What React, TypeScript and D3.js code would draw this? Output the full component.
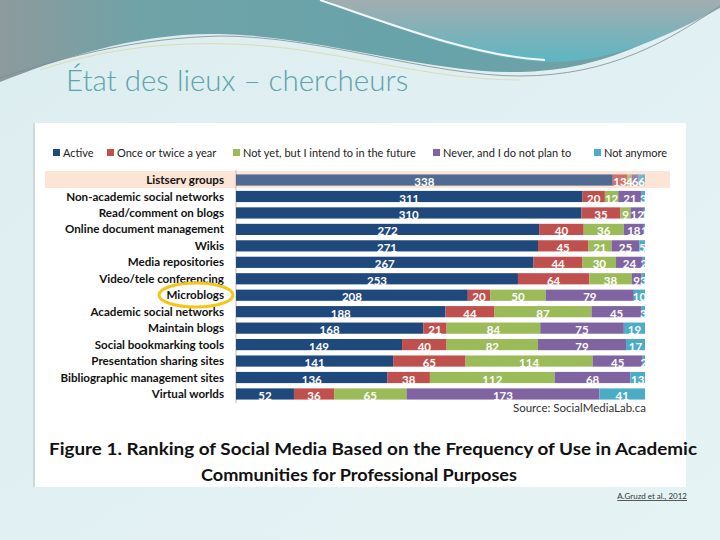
import * as d3 from "d3";

const categories = [
  "Listserv groups",
  "Non-academic social networks",
  "Read/comment on blogs",
  "Online document management",
  "Wikis",
  "Media repositories",
  "Video/tele conferencing",
  "Microblogs",
  "Academic social networks",
  "Maintain blogs",
  "Social bookmarking tools",
  "Presentation sharing sites",
  "Bibliographic management sites",
  "Virtual worlds",
];

const seriesNames = [
  "Active",
  "Once or twice a year",
  "Not yet, but I intend to in the future",
  "Never, and I do not plan to",
  "Not anymore",
];

const active = [338, 311, 310, 272, 271, 267, 253, 208, 188, 168, 149, 141, 136, 52];
const onceTwice = [13, 20, 35, 40, 45, 44, 64, 20, 44, 21, 40, 65, 38, 36];
const notYet = [4, 12, 9, 36, 21, 30, 38, 50, 87, 84, 82, 114, 112, 65];
const never = [6, 21, 12, 18, 25, 24, 9, 79, 45, 75, 79, 45, 68, 173];
const notAnymore = [6, 3, 1, 1, 5, 2, 3, 10, 3, 19, 17, 2, 13, 41];

const colors = ["#1f497d", "#c0504d", "#9bbb59", "#8064a2", "#4bacc6"];
const legendX = [53, 107, 233, 433, 594];

const font = "Lato, 'Open Sans', sans-serif";

export default function App() {
  const series = [active, onceTwice, notYet, never, notAnymore];
  const rows = categories.map((c, i) => {
    const o: Record<string, number | string> = { cat: c };
    seriesNames.forEach((s, j) => (o[s] = series[j][i]));
    return o;
  });
  const stacked = d3.stack<any>().keys(seriesNames)(rows);

  const y = d3
    .scaleBand()
    .domain(categories)
    .range([171.8, 402.2])
    .paddingInner(0.32)
    .paddingOuter(0.16);
  const total = d3.max(rows, (r) => d3.sum(seriesNames, (s) => r[s] as number)) || 367;
  const x = d3.scaleLinear().domain([0, total]).range([236, 645]);

  return (
    <svg
      width={720}
      height={540}
      style={{ position: "absolute", left: 0, top: 0 }}
      fontFamily={font}
    >
      <defs>
        <linearGradient id="bg" x1="0" y1="0" x2="1" y2="1">
          <stop offset="0" stopColor="#dcedf0" />
          <stop offset="1" stopColor="#e6f3f5" />
        </linearGradient>
        <linearGradient id="wave" x1="0" y1="0" x2="1" y2="0">
          <stop offset="0" stopColor="#8d9a9c" />
          <stop offset="0.2" stopColor="#6fa3a8" />
          <stop offset="0.6" stopColor="#67a3aa" />
          <stop offset="1" stopColor="#7a9ea3" />
        </linearGradient>
        <linearGradient id="wave2" x1="0" y1="0" x2="0" y2="1">
          <stop offset="0" stopColor="#a3adb0" />
          <stop offset="1" stopColor="#5db6c2" />
        </linearGradient>
        <clipPath id="lblclip">
          <rect x={30} y={160} width={620} height={250} />
        </clipPath>
      </defs>
      <rect width={720} height={540} fill="url(#bg)" />
      <path
        d="M0,0 H720 V4 C660,35 610,70 520,72 C430,74 320,36 220,34 C140,32 60,58 0,82 Z"
        fill="url(#wave)"
      />
      <path
        d="M325,0 C380,22 470,58 545,62 C610,64 670,35 720,8 V0 Z"
        fill="url(#wave2)"
      />
      <path
        d="M0,78 C70,55 140,38 220,36 C320,36 430,76 520,76 C610,76 670,40 720,6"
        fill="none"
        stroke="#7f8c8f"
        strokeWidth={0.8}
      />
      <path
        d="M40,70 C100,50 160,42 230,44 C330,46 420,80 520,80"
        fill="none"
        stroke="#d9d08a"
        strokeWidth={0.6}
      />
      <path
        d="M320,0 C380,20 470,56 545,60"
        fill="none"
        stroke="#f2f7f8"
        strokeWidth={2}
      />
      <text x={66} y={91} fontSize={29.5} fontWeight={300} fill="#5ba3ad" fontFamily={font}>
        État des lieux – chercheurs
      </text>

      <rect x={33} y={123} width={653} height={364} fill="#ffffff" />
      <rect x={33} y={123} width={2} height={364} fill="#cfd8da" />

      {seriesNames.map((s, i) => (
        <g key={s}>
          <rect x={legendX[i]} y={149} width={7} height={7} fill={colors[i]} />
          <text x={legendX[i] + 10} y={156.5} fontSize={11} fill="#222">
            {s}
          </text>
        </g>
      ))}

      <rect x={45} y={171} width={625} height={17} fill="#fce4d6" />
      <line x1={236} x2={236} y1={170} y2={403} stroke="#bbbbbb" />

      {categories.map((c) => (
        <text
          key={c}
          x={224}
          y={(y(c) ?? 0) + y.bandwidth() / 2}
          dy="0.35em"
          textAnchor="end"
          fontSize={11.6}
          fontWeight={700}
          fill="#111"
        >
          {c}
        </text>
      ))}

      {stacked.map((layer, i) => (
        <g key={layer.key} fill={colors[i]}>
          {layer.map((d, j) => (
            <rect
              key={j}
              x={x(d[0])}
              y={y(categories[j])}
              width={x(d[1]) - x(d[0])}
              height={y.bandwidth()}
              opacity={j === 0 ? 0.78 : 1}
            />
          ))}
        </g>
      ))}

      <g clipPath="url(#lblclip)">
        {stacked.map((layer) =>
          layer.map((d, j) => (
            <text
              key={layer.key + j}
              x={(x(d[0]) + x(d[1])) / 2}
              y={(y(categories[j]) ?? 0) + y.bandwidth() / 2 + 2}
              dy="0.35em"
              textAnchor="middle"
              fontSize={11.5}
              fontWeight={700}
              fill="#ffffff"
            >
              {d[1] - d[0]}
            </text>
          ))
        )}
      </g>

      <text x={646} y={412} textAnchor="end" fontSize={11.5} fill="#333">
        Source: SocialMediaLab.ca
      </text>

      <ellipse cx={196} cy={295} rx={37} ry={12} fill="none" stroke="#f5c518" strokeWidth={3} />

      <text
        x={49}
        y={455}
        fontSize={17}
        fontWeight={700}
        fill="#111"
        textLength={648}
        lengthAdjust="spacingAndGlyphs"
      >
        Figure 1. Ranking of Social Media Based on the Frequency of Use in Academic
      </text>
      <text
        x={201}
        y={481}
        fontSize={17}
        fontWeight={700}
        fill="#111"
        textLength={316}
        lengthAdjust="spacingAndGlyphs"
      >
        Communities for Professional Purposes
      </text>

      <text
        x={687}
        y={499}
        textAnchor="end"
        fontSize={8}
        fill="#333"
        textDecoration="underline"
      >
        A.Gruzd et al., 2012
      </text>
    </svg>
  );
}
